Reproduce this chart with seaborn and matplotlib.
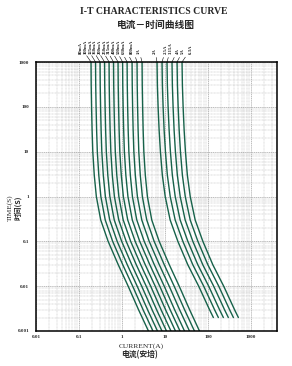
"""
I-T characteristics curve (fuse time-current chart), log-log.
Writes out.png (292x366 px).
"""

import matplotlib

matplotlib.use("Agg")
import matplotlib.pyplot as plt
import pandas as pd
import seaborn as sns
from matplotlib.ticker import LogLocator, NullFormatter

# ---- data ------------------------------------------------------------------
RATINGS = ["80mA", "100mA", "125mA", "160mA", "200mA", "250mA", "315mA", "400mA",
           "500mA", "630mA", "800mA", "1A",
           "2A", "2.5A", "3.15A", "4A", "5A", "6.3A"]
# current (A) where each curve leaves the top of the chart (t = 1000 s)
CURRENT_AT_1000S = [0.19, 0.242, 0.308, 0.392, 0.499, 0.634, 0.807, 1.03,
                    1.31, 1.71, 2.23, 2.92,
                    6.5, 8.5, 11.1, 14.5, 19.0, 24.8]
# shape of the curves: current / current at 1000 s, for the small ratings
LOW_TIMES = [1000, 300, 100, 30, 10, 3, 1, 0.3, 0.1, 0.03, 0.01, 0.003, 0.001]
LOW_RATIO = [1.0, 1.01, 1.03, 1.06, 1.1, 1.19, 1.33, 1.68, 2.5, 4.3, 7.3, 12.7, 21.6]
# and for the large ratings (these stop short of the bottom)
HIGH_TIMES = [1000, 300, 100, 30, 10, 3, 1, 0.3, 0.1, 0.03, 0.01, 0.003, 0.002]
HIGH_RATIO = [1.0, 1.02, 1.06, 1.12, 1.2, 1.33, 1.55, 2.02, 3.05, 5.2, 9.3, 16.6, 20.4]

XTICKS = [0.01, 0.1, 1, 10, 100, 1000]
XTICK_LABELS = ["0.01", "0.1", "1", "10", "100", "1000"]
YTICKS = [0.001, 0.01, 0.1, 1, 10, 100, 1000]
YTICK_LABELS = ["0.001", "0.01", "0.1", "1", "10", "100", "1000"]

# ---- layout (pixels of the 292x366 canvas) ----------------------------------
W, H = 292, 366
LABEL_X_PX = [81, 86, 90.5, 95, 100, 104.5, 109, 114, 119, 124, 132, 139,
              155, 166, 171, 177.5, 183, 191]
LINE_COLOR = "#17624a"

rows = []
for name, i0 in zip(RATINGS, CURRENT_AT_1000S):
    if i0 < 5:
        times, ratio = LOW_TIMES, LOW_RATIO
    else:
        times, ratio = HIGH_TIMES, HIGH_RATIO
    for t, r in zip(times, ratio):
        rows.append({"rating": name, "current": i0 * r, "time": t})
df = pd.DataFrame(rows)

sns.set_style("white")
plt.rcParams["font.family"] = ["Liberation Serif", "Noto Sans CJK SC", "DejaVu Sans"]

fig = plt.figure(figsize=(W / 100, H / 100), dpi=100)
ax = fig.add_axes([36 / W, 1 - 331 / H, 241 / W, 269 / H])

sns.lineplot(
    data=df, x="current", y="time", hue="rating", hue_order=RATINGS,
    palette=[LINE_COLOR] * len(RATINGS), estimator=None, sort=False,
    legend=False, linewidth=1.0, ax=ax,
)

ax.set_xscale("log")
ax.set_yscale("log")
ax.set_xlim(0.01, 4000)
ax.set_ylim(0.001, 1000)

ax.xaxis.set_minor_locator(LogLocator(base=10, subs=range(2, 10), numticks=30))
ax.yaxis.set_minor_locator(LogLocator(base=10, subs=range(2, 10), numticks=30))
ax.xaxis.set_minor_formatter(NullFormatter())
ax.yaxis.set_minor_formatter(NullFormatter())
ax.set_xticks(XTICKS, labels=XTICK_LABELS)
ax.set_yticks(YTICKS, labels=YTICK_LABELS)
ax.tick_params(which="both", length=0)
ax.tick_params(axis="x", pad=3, labelsize=3.6)
ax.tick_params(axis="y", pad=5, labelsize=3.6)
for lab in ax.get_xticklabels() + ax.get_yticklabels():
    lab.set_fontweight("bold")

ax.grid(which="major", color="#9a9a9a", linewidth=0.45, linestyle=(0, (2, 1)))
ax.grid(which="minor", color="#b8b8b8", linewidth=0.35, linestyle=(0, (2, 1)))
for sp in ax.spines.values():
    sp.set_color("black")
    sp.set_linewidth(1.1)
ax.set_xlabel("")
ax.set_ylabel("")

# rating labels with leader lines down to the curves
for name, i0, lx in zip(RATINGS, CURRENT_AT_1000S, LABEL_X_PX):
    ax.annotate(
        name, xy=(i0, 1000), xycoords="data",
        xytext=(lx / W, 1 - 53.5 / H), textcoords="figure fraction",
        rotation=90, ha="center", va="bottom", fontsize=3.4, fontweight="bold",
        arrowprops=dict(arrowstyle="-", color="black", lw=0.4, shrinkA=0.5, shrinkB=0),
        annotation_clip=False,
    )

fig.text(154 / W, 1 - 12 / H, "I-T CHARACTERISTICS CURVE", ha="center", va="center",
         fontsize=7, fontweight="bold", family="Liberation Serif")
fig.text(156 / W, 1 - 25 / H, "电流－时间曲线图", ha="center", va="center",
         fontsize=7, fontweight="bold", family=["Noto Sans CJK SC", "DejaVu Sans"])

fig.text(10 / W, 1 - 208 / H, "TIME(S)", rotation=90, ha="center", va="center",
         fontsize=5.2, family="Liberation Serif")
fig.text(17.5 / W, 1 - 208 / H, "时间(S)", rotation=90, ha="center", va="center",
         fontsize=5.2, fontweight="bold", family=["Noto Sans CJK SC", "DejaVu Sans"])

fig.text(141 / W, 1 - 346 / H, "CURRENT(A)", ha="center", va="center",
         fontsize=5.4, family="Liberation Serif")
fig.text(140 / W, 1 - 354.5 / H, "电流(安培)", ha="center", va="center",
         fontsize=5.6, fontweight="bold", family=["Noto Sans CJK SC", "DejaVu Sans"])

fig.savefig("out.png", dpi=100, facecolor="white")
plt.close(fig)
